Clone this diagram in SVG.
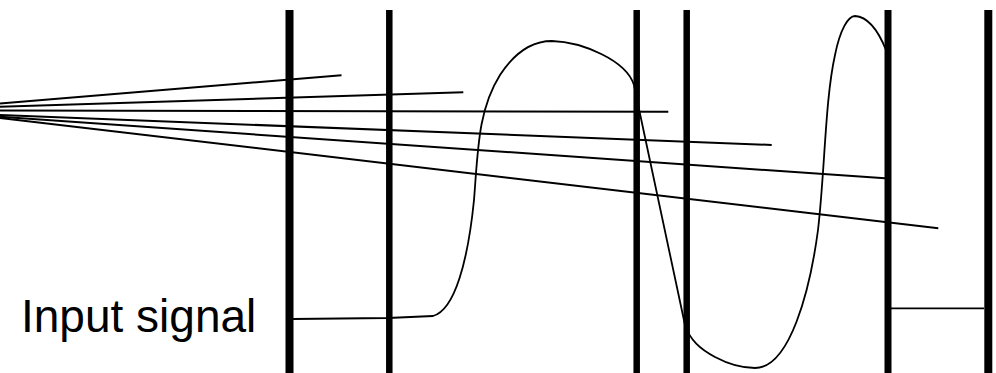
<svg xmlns="http://www.w3.org/2000/svg" width="996" height="373" viewBox="0 0 996 373">
<style>
.bar{stroke:#000;fill:none}
.thin{stroke:#000;stroke-width:2;fill:none;stroke-linecap:butt}
.sig{stroke:#000;stroke-width:1.8;fill:none;stroke-linejoin:round}
.lbl{font-family:"Liberation Sans",Arial,sans-serif;font-size:46px;fill:#000}
</style>
<rect width="996" height="373" fill="#fff"/>
<g id="rays">
<line class="thin" x1="0" y1="103.5" x2="341.5" y2="75.3"/>
<line class="thin" x1="0" y1="106.7" x2="463.3" y2="92.3"/>
<line class="thin" x1="0" y1="110.5" x2="668.3" y2="111.7"/>
<line class="thin" x1="0" y1="115" x2="771.7" y2="145"/>
<line class="thin" x1="0" y1="116.7" x2="885" y2="178.3"/>
<line class="thin" x1="0" y1="118" x2="938.3" y2="228.3"/>
</g>
<g id="signal">
<path class="sig" d="M293,319 L388,318 L433,316 C455,310 468,260 474,200 C478,150 478,110 500,75 C515,52 532,41 552,41 C582,42 626,60 634,85 L636,95 L685,325 C690,340 700,349 715,357 C730,365 745,368 755,368 C790,368 810,290 818,230 C825,170 825,100 835,55 C840,30 848,16 855,16 C870,17 880,35 886,50"/>
<line class="sig" x1="891" y1="308.3" x2="984" y2="308.3"/>
</g>
<g id="bars">
<line class="bar" x1="289.5" y1="10" x2="289.5" y2="373" stroke-width="8"/>
<line class="bar" x1="389.3" y1="10" x2="389.3" y2="373" stroke-width="6.5"/>
<line class="bar" x1="636.7" y1="10" x2="636.7" y2="373" stroke-width="6.5"/>
<line class="bar" x1="686.7" y1="10" x2="686.7" y2="373" stroke-width="6.5"/>
<line class="bar" x1="888" y1="10" x2="888" y2="373" stroke-width="7"/>
<line class="bar" x1="988.3" y1="10" x2="988.3" y2="373" stroke-width="8"/>
</g>
<g id="label">
<text class="lbl" x="21" y="332">Input signal</text>
</g>
</svg>
